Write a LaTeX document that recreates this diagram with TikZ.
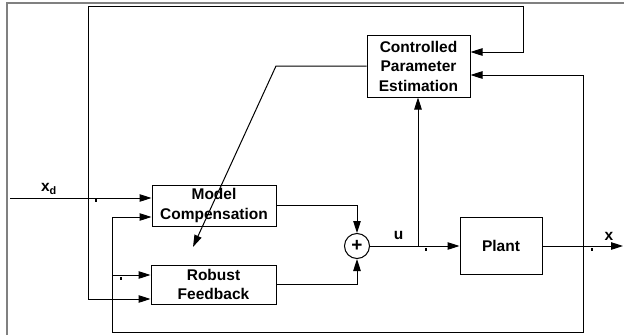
\documentclass[tikz,border=0pt]{standalone}
\usepackage{fontspec}
\setmainfont{Liberation Sans}
\usepackage{tikz}
\usetikzlibrary{calc,positioning,arrows.meta}
\definecolor{frameGray}{HTML}{808080}

\begin{document}
\begin{tikzpicture}[
    x=1pt, y=-1pt,
    block/.style={rectangle, draw=black, line width=1pt, fill=white,
                  align=center, inner sep=0pt,
                  font=\fontsize{15.5}{19.5}\selectfont\bfseries},
    sumnode/.style={circle, draw=black, line width=1pt, minimum size=25pt,
                    inner sep=0pt, font=\fontsize{19}{19}\selectfont\bfseries},
    arrow/.style={-{Triangle[length=12pt, width=7.5pt]}, line width=1pt},
    wire/.style={line width=1pt},
    tickmark/.style={line width=1.4pt},
    lbl/.style={inner sep=0pt, font=\fontsize{15.5}{15.5}\selectfont\bfseries},
]
    \useasboundingbox (0,0) rectangle (624,335);
    \draw[frameGray, line width=1.5pt] (7,335) -- (7,3) -- (624,3);

    % blocks
    \node[block, minimum width=103pt, minimum height=62pt] (cpe) at (418.5,66) {Controlled\\Parameter\\Estimation};
    \node[block, minimum width=124pt, minimum height=41pt] (model) at (214,205.5) {Model\\Compensation};
    \node[block, minimum width=125pt, minimum height=39pt] (robust) at (213.5,284.5) {Robust\\Feedback};
    \node[sumnode] (sum) at (357,246) {+};
    \node[block, minimum width=82pt, minimum height=57pt] (plant) at (501,246) {Plant};

    % branch points and free ends
    \coordinate (xd) at (10,198);
    \coordinate (jd) at (88,198);
    \coordinate (jfb) at (112,275);
    \coordinate (ju) at (418,246);
    \coordinate (jx) at (583,246);
    \coordinate (xout) at (623,246);
    \coordinate (adj) at (193,247);

    % signal labels
    \node[lbl] (xdlbl) at (49,189) {x\textsubscript{d}};
    \node[lbl] (ulbl) at (398.5,235) {u};
    \node[lbl] (xlbl) at (609,236) {x};

    % reference path
    \draw[arrow] (xd) -- (model.west |- xd);
    \draw[arrow] (jd) -- (88,6) -- (523,6) |- ([yshift=14pt]cpe.east);
    \draw[arrow] (jd) |- ([yshift=-14.5pt]robust.west);

    % estimator output to the robust feedback
    \draw[arrow] (cpe.west) -- (276,66) -- (adj);

    % summing junction and plant
    \draw[arrow] (model.east) -| (sum.north);
    \draw[arrow] (robust.east) -| (sum.south);
    \draw[arrow] (sum.east) -- (plant.west);
    \draw[arrow] (ju) -- (ju |- cpe.south);
    \draw[arrow] (plant.east) -- (xout);

    % state feedback
    \draw[arrow] (jx) |- ([yshift=-9pt]cpe.east);
    \draw[arrow] (jx) |- (112,332) |- ([yshift=-11.5pt]model.west);
    \draw[arrow] (jfb) -- (robust.west |- jfb);

    % junction ticks
    \foreach \tx/\ty in {96/199, 121/277, 426/248, 592/248}
        \draw[tickmark] (\tx,\ty) -- (\tx,\ty+3);
\end{tikzpicture}
\end{document}
